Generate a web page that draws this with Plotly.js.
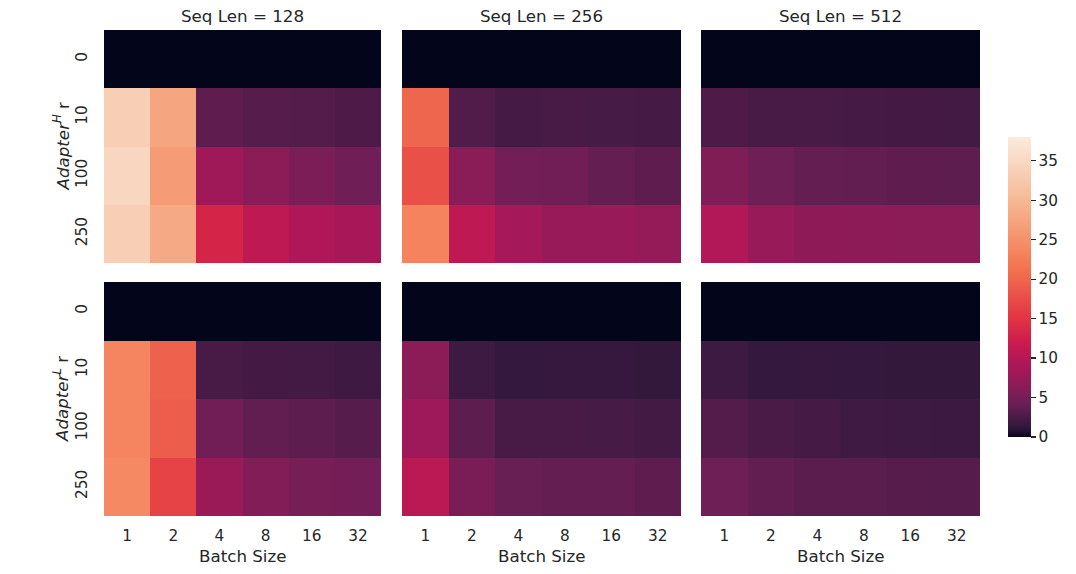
<!DOCTYPE html>
<html><head><meta charset="utf-8">
<script src="https://cdn.plot.ly/plotly-3.0.1.min.js"></script>
<style>body{margin:0;background:#fff;}</style>
</head><body><div id="chart" style="width:1076px;height:574px;"></div>
<script>
const batchSizes = ['1','2','4','8','16','32'];
const ranks = ['0','10','100','250'];
const seqLens = ['128','256','512'];

// Adapter^H
const adapterH_128 = [
  [0, 0, 0, 0, 0, 0],
  [33.5, 27.6, 3.6, 3.1, 3.0, 2.7],
  [34.6, 26.3, 8.1, 6.6, 5.5, 4.7],
  [33.5, 28.1, 13.2, 10.8, 9.4, 8.9]
];
const adapterH_256 = [
  [0, 0, 0, 0, 0, 0],
  [20, 2.9, 2.25, 2.4, 2.3, 2.25],
  [17.7, 6.5, 4.9, 4.85, 4.0, 3.6],
  [23.2, 10.8, 8.6, 7.6, 7.5, 7.3]
];
const adapterH_512 = [
  [0, 0, 0, 0, 0, 0],
  [2.7, 2.4, 2.4, 2.25, 2.2, 2.1],
  [5.8, 4.6, 4.0, 3.85, 3.6, 3.5],
  [9.7, 7.6, 6.8, 6.7, 6.6, 6.6]
];
// Adapter^L
const adapterL_128 = [
  [0, 0, 0, 0, 0, 0],
  [23.4, 19.5, 2.4, 2.2, 2.1, 1.9],
  [23.4, 19.1, 4.85, 3.8, 3.5, 3.1],
  [23.9, 16.5, 7.7, 6.0, 5.2, 5.0]
];
const adapterL_256 = [
  [0, 0, 0, 0, 0, 0],
  [6.6, 1.8, 1.5, 1.55, 1.55, 1.4],
  [8.0, 3.5, 2.4, 2.4, 2.3, 2.1],
  [10.5, 5.4, 4.2, 4.0, 4.0, 3.6]
];
const adapterL_512 = [
  [0, 0, 0, 0, 0, 0],
  [1.8, 1.5, 1.55, 1.5, 1.4, 1.4],
  [3.0, 2.45, 2.25, 1.95, 1.8, 1.75],
  [4.6, 3.8, 3.4, 3.35, 3.2, 3.1]
];

// rocket anchors
const rocketAnchors = [
  [0.0, [3, 5, 26]],
  [1/7, [53, 25, 62]],
  [2/7, [112, 31, 87]],
  [3/7, [173, 23, 89]],
  [0.5, [203, 27, 79]],
  [4/7, [225, 51, 66]],
  [5/7, [243, 118, 81]],
  [6/7, [246, 180, 143]],
  [1.0, [250, 235, 221]]
];
function rocketAt(p) {
  for (let i = 1; i < rocketAnchors.length; i++) {
    const [p0, c0] = rocketAnchors[i - 1], [p1, c1] = rocketAnchors[i];
    if (p <= p1) {
      const t = (p - p0) / (p1 - p0);
      const c = c0.map((v, k) => Math.round(v + t * (c1[k] - v)));
      return 'rgb(' + c.join(',') + ')';
    }
  }
  return 'rgb(250,235,221)';
}
const colorscale = [];
for (let i = 0; i <= 60; i++) {
  const s = i / 60;
  colorscale.push([s, rocketAt(Math.pow(s, 0.6))]);
}

const W = 1076, H = 574;
const xDom = [[104, 381], [402, 681], [701, 980]];
const yDom = [[30, 263], [282, 516]];
const fx = p => p / W;
const fy = p => 1 - p / H;

const grids = [adapterH_128, adapterH_256, adapterH_512, adapterL_128, adapterL_256, adapterL_512];
const font = {family: 'DejaVu Sans, sans-serif', color: '#262626'};
const tickSize = 15.3, titleSize = 16.7;
const traces = [];
const layout = {
  width: W, height: H,
  margin: {l: 0, r: 0, t: 0, b: 0},
  paper_bgcolor: '#fff', plot_bgcolor: '#fff',
  font: Object.assign({size: tickSize}, font),
  showlegend: false,
  coloraxis: {
    cmin: 0, cmax: 38, colorscale: colorscale,
    colorbar: {
      x: fx(1008), xanchor: 'left', y: fy(137), yanchor: 'top',
      len: 300 / H, lenmode: 'fraction', thickness: 23, thicknessmode: 'pixels',
      outlinewidth: 0, ticks: 'outside', ticklen: 5, tickwidth: 1.2, tickcolor: '#262626',
      tickvals: [0, 5, 10, 15, 20, 25, 30, 35],
      tickfont: Object.assign({size: tickSize}, font), xpad: 0, ypad: 0
    }
  },
  annotations: []
};

grids.forEach((z, i) => {
  const row = Math.floor(i / 3), col = i % 3;
  const n = i + 1;
  const sfx = n === 1 ? '' : String(n);
  traces.push({
    type: 'heatmap', z: z, x: batchSizes, y: ranks,
    xaxis: 'x' + sfx, yaxis: 'y' + sfx,
    coloraxis: 'coloraxis', xgap: 0, ygap: 0
  });
  layout['xaxis' + sfx] = {
    domain: [fx(xDom[col][0]), fx(xDom[col][1])],
    anchor: 'y' + sfx,
    type: 'category', showgrid: false, zeroline: false, showline: false,
    ticks: '', showticklabels: row === 1, ticklabelstandoff: 9,
    tickfont: Object.assign({size: tickSize}, font), fixedrange: true
  };
  layout['yaxis' + sfx] = {
    domain: [fy(yDom[row][1]), fy(yDom[row][0])],
    anchor: 'x' + sfx,
    type: 'category', autorange: 'reversed', showgrid: false, zeroline: false, showline: false,
    ticks: '', showticklabels: col === 0, tickangle: -90, ticklabelstandoff: 13,
    tickfont: Object.assign({size: tickSize}, font), fixedrange: true
  };
  if (row === 0) {
    layout.annotations.push({
      text: 'Seq Len = ' + seqLens[col], xref: 'paper', yref: 'paper',
      x: fx((xDom[col][0] + xDom[col][1]) / 2), y: fy(16), xanchor: 'center', yanchor: 'middle',
      showarrow: false, font: Object.assign({size: titleSize}, font)
    });
  } else {
    layout.annotations.push({
      text: 'Batch Size', xref: 'paper', yref: 'paper',
      x: fx((xDom[col][0] + xDom[col][1]) / 2), y: fy(556), xanchor: 'center', yanchor: 'middle',
      showarrow: false, font: Object.assign({size: titleSize}, font)
    });
  }
});

layout.annotations.push({
  text: '<i>Adapter</i><sup><i>H</i></sup> r', xref: 'paper', yref: 'paper',
  x: fx(61), y: fy((yDom[0][0] + yDom[0][1]) / 2), xanchor: 'center', yanchor: 'middle',
  textangle: -90, showarrow: false, font: Object.assign({size: titleSize}, font)
});
layout.annotations.push({
  text: '<i>Adapter</i><sup><i>L</i></sup> r', xref: 'paper', yref: 'paper',
  x: fx(61), y: fy((yDom[1][0] + yDom[1][1]) / 2), xanchor: 'center', yanchor: 'middle',
  textangle: -90, showarrow: false, font: Object.assign({size: titleSize}, font)
});

Plotly.newPlot('chart', traces, layout, {displayModeBar: false, staticPlot: true});
</script>
</body></html>
